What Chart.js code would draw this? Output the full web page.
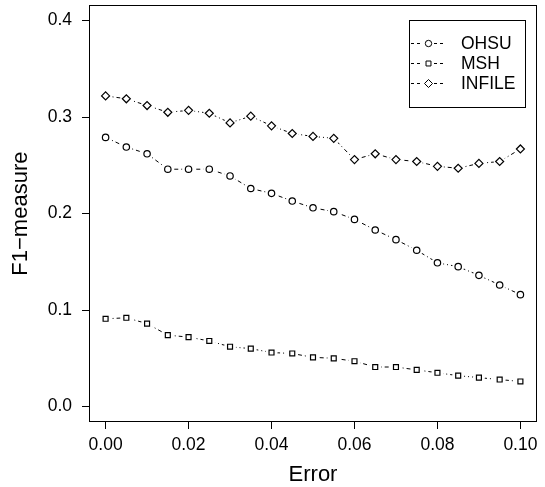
<!DOCTYPE html>
<html>
<head>
<meta charset="utf-8">
<script src="https://cdn.jsdelivr.net/npm/chart.js@4"></script>
<style>
  body { margin: 0; background: #fff; }
  canvas { display: block; }
</style>
</head>
<body>
<canvas id="f1Chart" width="545" height="487"></canvas>
<script>
// error rate on the x axis, one F1 value per rate for each corpus
const errorRates = [0, 0.005, 0.01, 0.015, 0.02, 0.025, 0.03, 0.035, 0.04, 0.045, 0.05,
                    0.055, 0.06, 0.065, 0.07, 0.075, 0.08, 0.085, 0.09, 0.095, 0.1];
const ohsu = [0.279, 0.269, 0.262, 0.246, 0.246, 0.246, 0.239, 0.226, 0.221, 0.213, 0.206,
              0.202, 0.194, 0.183, 0.173, 0.162, 0.149, 0.145, 0.136, 0.126, 0.116];
const msh = [0.091, 0.092, 0.086, 0.074, 0.072, 0.068, 0.062, 0.060, 0.056, 0.055, 0.051,
             0.050, 0.047, 0.041, 0.041, 0.038, 0.035, 0.032, 0.030, 0.028, 0.026];
const infile = [0.322, 0.319, 0.312, 0.305, 0.307, 0.304, 0.294, 0.301, 0.291, 0.283, 0.280,
                0.278, 0.256, 0.262, 0.256, 0.254, 0.249, 0.247, 0.252, 0.254, 0.267];
const seriesNames = ['OHSU', 'MSH', 'INFILE'];
const xTicks = [0, 0.02, 0.04, 0.06, 0.08, 0.1];
const yTicks = [0, 0.1, 0.2, 0.3, 0.4];

Chart.defaults.font.family = '"Liberation Sans", Arial, sans-serif';
Chart.defaults.color = '#000';

const dash = [4, 3, 1, 3];
function series(label, values, style, radius) {
    return {
        label: label,
        data: errorRates.map((x, i) => ({ x: x, y: values[i] })),
        borderColor: '#000',
        borderWidth: 1,
        borderDash: dash,
        pointStyle: style,
        pointRadius: radius,
        pointBorderWidth: 1.2,
        pointBorderColor: '#000',
        pointBackgroundColor: '#fff',
        fill: false,
        tension: 0
    };
}

// leave a small gap in the line around each marker (like type="b" in R)
const markerGaps = {
    id: 'markerGaps',
    afterDatasetDraw(chart, args) {
        const ctx = chart.ctx, area = chart.chartArea;
        ctx.save();
        ctx.fillStyle = '#fff';
        args.meta.data.forEach(p => {
            ctx.beginPath();
            ctx.arc(p.x, p.y, 6, 0, Math.PI * 2);
            ctx.fill();
        });
        args.meta.data.forEach(p => p.draw(ctx, area));
        ctx.restore();
    }
};

// frame around the plotting region
const frame = {
    id: 'frame',
    afterDraw(chart) {
        const a = chart.chartArea, ctx = chart.ctx;
        ctx.save();
        ctx.strokeStyle = '#000';
        ctx.lineWidth = 1;
        ctx.strokeRect(Math.round(a.left) + 0.5, Math.round(a.top) + 0.5,
                       Math.round(a.right - a.left) - 1, Math.round(a.bottom - a.top) - 1);
        ctx.restore();
    }
};

// boxed legend in the top right corner
const boxLegend = {
    id: 'boxLegend',
    afterDraw(chart) {
        const ctx = chart.ctx;
        ctx.save();
        ctx.strokeStyle = '#000';
        ctx.lineWidth = 1;
        ctx.strokeRect(409.5, 20.5, 116, 87);
        ctx.font = '17.5px "Liberation Sans", Arial, sans-serif';
        ctx.textBaseline = 'middle';
        chart.data.datasets.forEach((ds, i) => {
            const y = 43 + i * 20;
            ctx.setLineDash([3, 3]);
            ctx.beginPath();
            ctx.moveTo(411, y + 0.5); ctx.lineTo(423, y + 0.5);
            ctx.moveTo(434, y + 0.5); ctx.lineTo(446, y + 0.5);
            ctx.stroke();
            ctx.setLineDash([]);
            ctx.fillStyle = '#fff';
            Chart.helpers.drawPoint(ctx, { pointStyle: ds.pointStyle, radius: ds.pointRadius, borderWidth: 1, rotation: 0 }, 428.5, y + 0.5);
            ctx.fillStyle = '#000';
            ctx.fillText(ds.label, 461, y + 1);
        });
        ctx.restore();
    }
};

const ctx = document.getElementById('f1Chart').getContext('2d');
const chart = new Chart(ctx, {
    type: 'line',
    data: {
        datasets: [
            series(seriesNames[0], ohsu, 'circle', 3.2),
            series(seriesNames[1], msh, 'rect', 3.5),
            series(seriesNames[2], infile, 'rectRot', 4)
        ]
    },
    options: {
        responsive: false,
        animation: false,
        layout: { padding: { top: 5, right: 8, left: 0, bottom: 0 } },
        plugins: {
            legend: { display: false },
            tooltip: { enabled: false }
        },
        scales: {
            x: {
                type: 'linear',
                min: -0.004,
                max: 0.104,
                afterBuildTicks: s => { s.ticks = xTicks.map(v => ({ value: v })); },
                afterFit: s => { s.height = 65; s.paddingLeft = 0; s.paddingRight = 0; },
                border: { display: false },
                grid: { drawOnChartArea: false, drawTicks: true, tickLength: 7, color: '#000' },
                ticks: {
                    autoSkip: false,
                    maxRotation: 0,
                    padding: 6,
                    font: { size: 17.5 },
                    callback: v => v.toFixed(2)
                },
                title: {
                    display: true,
                    text: 'Error',
                    font: { size: 22, lineHeight: 1 },
                    padding: { top: 0, bottom: 1 }
                }
            },
            y: {
                min: -0.016,
                max: 0.416,
                afterBuildTicks: s => { s.ticks = yTicks.map(v => ({ value: v })); },
                afterFit: s => { s.width = 89; s.paddingTop = 0; s.paddingBottom = 0; },
                border: { display: false },
                grid: { drawOnChartArea: false, drawTicks: true, tickLength: 7, color: '#000' },
                ticks: {
                    padding: 10,
                    font: { size: 17.5 },
                    callback: v => v.toFixed(1)
                },
                title: {
                    display: true,
                    text: 'F1\u2212measure',
                    font: { size: 22, lineHeight: 1.2 },
                    padding: { top: 8, bottom: 0 }
                }
            }
        }
    },
    plugins: [markerGaps, frame, boxLegend]
});
</script>
</body>
</html>
